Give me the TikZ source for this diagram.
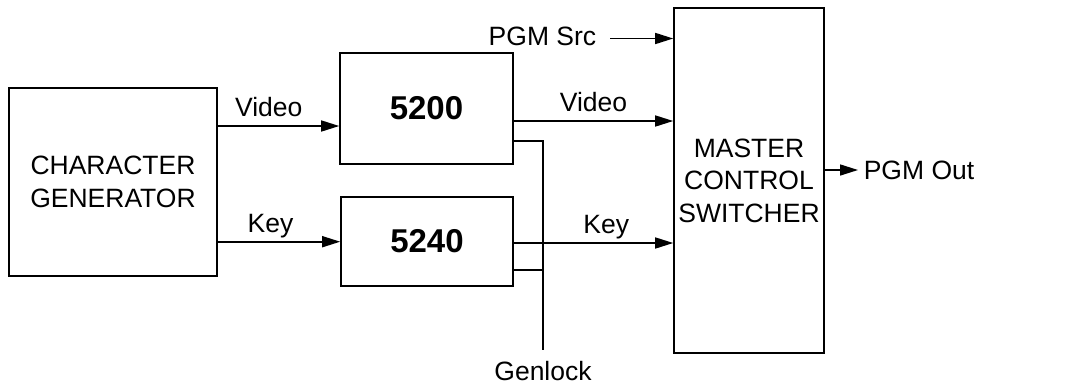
\documentclass[tikz,border=0pt]{standalone}
\usepackage{fontspec}
\setmainfont{Liberation Sans}
\usepackage{tikz}
\usetikzlibrary{arrows.meta,positioning,calc}

\begin{document}
\begin{tikzpicture}[
  x=1pt, y=-1pt,
  font=\fontsize{26.5}{32.6}\selectfont,
  line width=1.6pt,
  box/.style={draw, align=center, inner sep=0pt},
  unit/.style={box, font=\fontsize{33}{38}\selectfont\bfseries},
  lbl/.style={anchor=base, inner sep=0pt, yshift=9.5pt},
  io/.style={inner sep=0pt},
  arrow/.style={-{Triangle[length=18pt, width=11pt]}}
]
  \useasboundingbox (0,0) rectangle (1073,386);

  % Boxes
  \node[box, minimum width=208pt, minimum height=188pt] (cg) at (113,182) {CHARACTER\\GENERATOR};
  \node[unit, minimum width=173pt, minimum height=111pt] (u5200) at (426.5,108.5) {5200};
  \node[unit, minimum width=172pt, minimum height=89pt] (u5240) at (427,241.5) {5240};
  \node[box, minimum width=150pt, minimum height=345pt] (mcs) at (749,180.5) {MASTER\\CONTROL\\SWITCHER};

  % Outside signals
  \node[io, anchor=east] (src) at (597,36) {PGM Src};
  \node[io, anchor=west] (out) at (863,170) {PGM Out};
  \node[io, inner ysep=10pt, anchor=north] (gl) at (543,350) {Genlock};
  \coordinate (gtop) at (543,141);
  \coordinate (gkey) at (543,270);

  % Arrows
  \draw[arrow] (cg.east |- 0,126) -- node[lbl, pos=0.42] {Video} (u5200.west |- 0,126);
  \draw[arrow] (cg.east |- 0,241.7) -- node[lbl, pos=0.43] {Key} (u5240.west |- 0,241.7);
  \draw[arrow] (u5200.east |- 0,121) -- node[lbl] {Video} (mcs.west |- 0,121);
  \draw[arrow] (u5240.east |- 0,243) -- node[lbl, pos=0.58] {Key} (mcs.west |- 0,243);
  \draw[arrow] ([xshift=13pt]src.east |- 0,38.5) -- (mcs.west |- 0,38.5);
  \draw[arrow] (mcs.east |- out) -- ([xshift=-5pt]out.west);

  % Genlock
  \draw (gtop -| u5200.east) -- (gtop) -- (gl.north);
  \draw (gkey -| u5240.east) -- (gkey);
\end{tikzpicture}
\end{document}
